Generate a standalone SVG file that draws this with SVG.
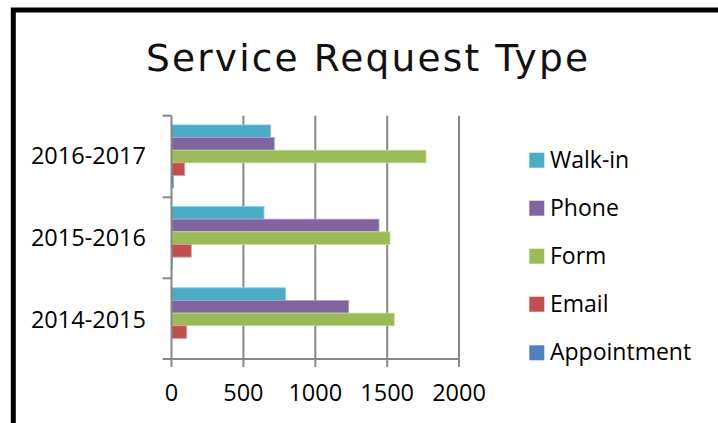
<svg xmlns="http://www.w3.org/2000/svg" width="718" height="423" viewBox="0 0 718 423">
<style>
.lbl{font-family:"Open Sans","Liberation Sans",sans-serif;font-size:23.5px;fill:#000}
.leg{font-family:"Open Sans","Liberation Sans",sans-serif;font-size:23px;fill:#000}
.grid{stroke:#878787;stroke-width:2;fill:none}
.walk{fill:#4BACC6;stroke:#8fd0e0;stroke-width:0.8}
.phone{fill:#8064A2;stroke:#b39fcc;stroke-width:0.8}
.form{fill:#9BBB59;stroke:#c6dc98;stroke-width:0.8}
.email{fill:#C0504D;stroke:#e09a98;stroke-width:0.8}
.appt{fill:#4F81BD;stroke:#93b4dc;stroke-width:0.5}
</style>
<rect width="718" height="423" fill="#fff"/>
<path d="M13.3,423 V10 H718" fill="none" stroke="#000" stroke-width="5"/>
<text id="title" x="146" y="71" font-family="DejaVu Sans,Verdana,sans-serif" font-size="37.5" textLength="442" lengthAdjust="spacing" fill="#111">Service Request Type</text>
<g id="gridlines">
<line class="grid" x1="243.4" y1="115.7" x2="243.4" y2="367"/>
<line class="grid" x1="315.3" y1="115.7" x2="315.3" y2="367"/>
<line class="grid" x1="387.2" y1="115.7" x2="387.2" y2="367"/>
<line class="grid" x1="459" y1="115.7" x2="459" y2="367"/>
</g>
<g id="bars-2016-2017">
<rect class="walk" x="171.5" y="124.9" width="99.2" height="12.65"/>
<rect class="phone" x="171.5" y="137.55" width="102.8" height="12.65"/>
<rect class="form" x="171.5" y="150.2" width="254.5" height="12.65"/>
<rect class="email" x="171.5" y="162.85" width="13.2" height="12.65"/>
<rect class="appt" x="171.5" y="175.5" width="2.2" height="12.65"/>
</g>
<g id="bars-2015-2016">
<rect class="walk" x="171.5" y="206.5" width="92.5" height="12.65"/>
<rect class="phone" x="171.5" y="219.15" width="207.5" height="12.65"/>
<rect class="form" x="171.5" y="231.8" width="218.5" height="12.65"/>
<rect class="email" x="171.5" y="244.45" width="19.8" height="12.65"/>
<rect class="appt" x="171.5" y="257.1" width="1" height="12.65"/>
</g>
<g id="bars-2014-2015">
<rect class="walk" x="171.5" y="287.8" width="114.2" height="12.65"/>
<rect class="phone" x="171.5" y="300.45" width="177.2" height="12.65"/>
<rect class="form" x="171.5" y="313.1" width="222.8" height="12.65"/>
<rect class="email" x="171.5" y="325.75" width="15.2" height="12.65"/>
</g>
<g id="axes">
<line class="grid" x1="171.5" y1="115.7" x2="171.5" y2="367" stroke-width="2.4"/>
<line class="grid" x1="162.7" y1="359" x2="459" y2="359" stroke-width="2.4"/>
<line class="grid" x1="162.7" y1="115.7" x2="171.5" y2="115.7"/>
<line class="grid" x1="162.7" y1="197.3" x2="171.5" y2="197.3"/>
<line class="grid" x1="162.7" y1="278.3" x2="171.5" y2="278.3"/>
</g>
<g id="category-labels">
<text class="lbl" x="146" y="164" text-anchor="end">2016-2017</text>
<text class="lbl" x="146" y="246" text-anchor="end">2015-2016</text>
<text class="lbl" x="146" y="327.7" text-anchor="end">2014-2015</text>
</g>
<g id="value-labels">
<text class="lbl" x="171.5" y="400.7" text-anchor="middle">0</text>
<text class="lbl" x="243.4" y="400.7" text-anchor="middle">500</text>
<text class="lbl" x="315.3" y="400.7" text-anchor="middle">1000</text>
<text class="lbl" x="387.2" y="400.7" text-anchor="middle">1500</text>
<text class="lbl" x="459" y="400.7" text-anchor="middle">2000</text>
</g>
<g id="legend">
<g id="legend-walkin"><rect x="529.3" y="152.7" width="15" height="15" fill="#4BACC6"/><text class="leg" x="550" y="167.7">Walk-in</text></g>
<g id="legend-phone"><rect x="529.3" y="200.7" width="15" height="15" fill="#8064A2"/><text class="leg" x="550" y="215.7">Phone</text></g>
<g id="legend-form"><rect x="529.3" y="248.7" width="15" height="15" fill="#9BBB59"/><text class="leg" x="550" y="263.7">Form</text></g>
<g id="legend-email"><rect x="529.3" y="296.7" width="15" height="15" fill="#C0504D"/><text class="leg" x="550" y="311.7">Email</text></g>
<g id="legend-appointment"><rect x="529.3" y="345.3" width="15" height="15" fill="#4F81BD"/><text class="leg" x="550" y="360.3">Appointment</text></g>
</g>
</svg>
